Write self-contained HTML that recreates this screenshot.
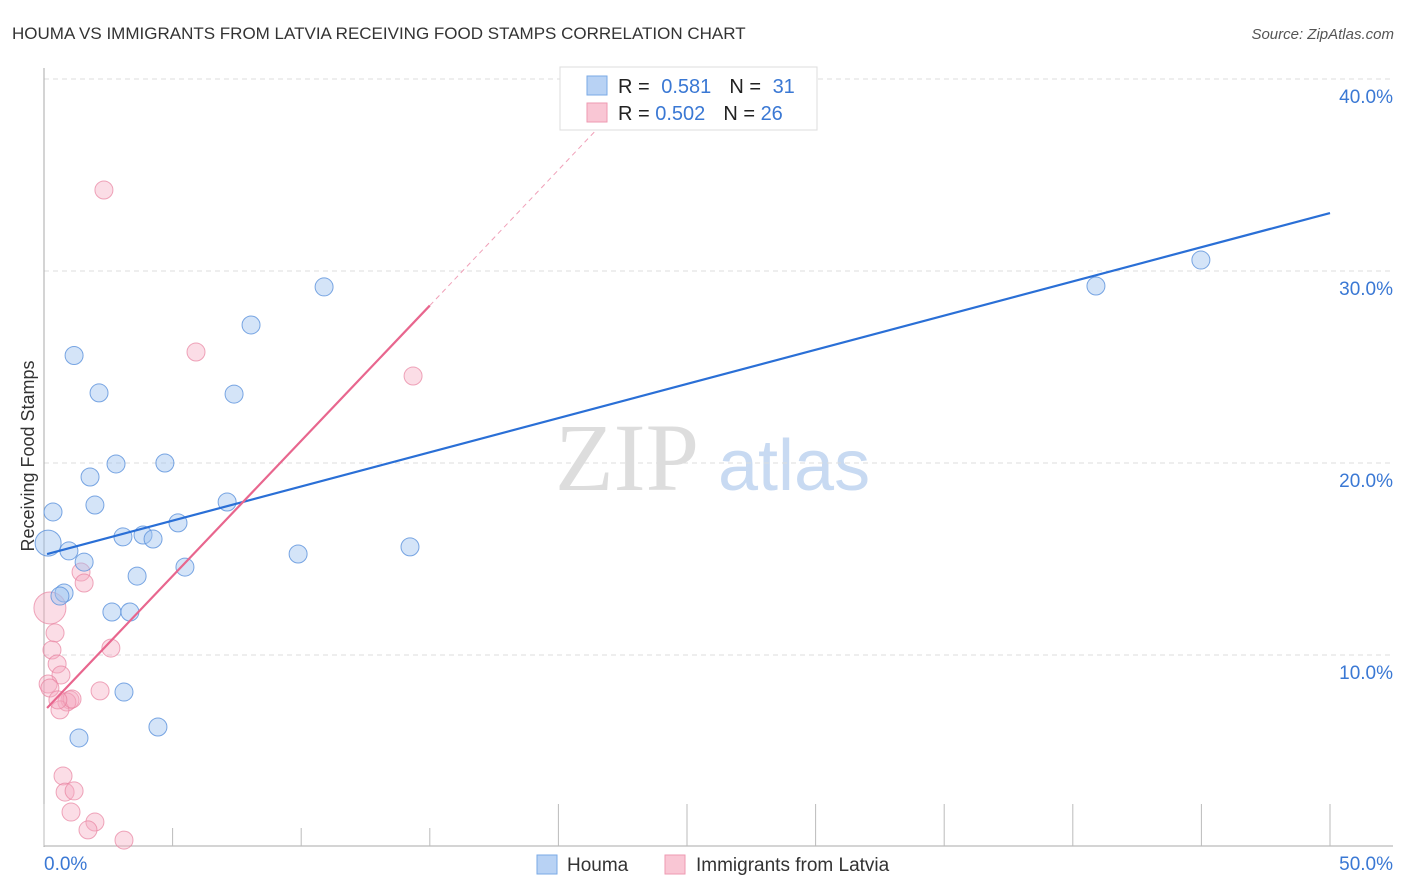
<!DOCTYPE html>
<html><head><meta charset="utf-8"><style>
body{margin:0;background:#fff;font-family:"Liberation Sans",sans-serif;}
svg{display:block}
</style></head><body>
<svg id="chart" width="1406" height="892">
<text x="12" y="39" font-size="17" fill="#333">HOUMA VS IMMIGRANTS FROM LATVIA RECEIVING FOOD STAMPS CORRELATION CHART</text>
<text x="1394" y="39" font-size="15" fill="#555" font-style="italic" text-anchor="end">Source: ZipAtlas.com</text>
<text x="0" y="0" transform="translate(34,456) rotate(-90)" font-size="18" fill="#333" text-anchor="middle">Receiving Food Stamps</text>
<text x="555" y="490" font-size="96" fill="#ddd" font-family="Liberation Serif,serif">ZIP</text>
<text x="718" y="490" font-size="72" fill="#c8daf2">atlas</text>
<g id="grid"></g><g id="ticks"></g><g id="pts"></g><g id="trend"></g>
<rect x="560" y="67" width="257" height="63" fill="#fff" stroke="#ddd"/>
<rect x="587" y="76" width="20" height="19" fill="#b8d2f4" stroke="#7aaae6"/>
<rect x="587" y="103" width="20" height="19" fill="#f9c6d4" stroke="#ee9ab2"/>
<text x="618" y="93" font-size="20" fill="#222">R = <tspan fill="#3a78d4" dx="6">0.581</tspan><tspan fill="#222" dx="18">N = </tspan><tspan fill="#3a78d4" dx="6">31</tspan></text>
<text x="618" y="120" font-size="20" fill="#222">R = <tspan fill="#3a78d4">0.502</tspan><tspan fill="#222" dx="18">N = </tspan><tspan fill="#3a78d4">26</tspan></text>
<rect x="537" y="855" width="20" height="19" fill="#b8d2f4" stroke="#7aaae6"/>
<text x="567" y="871" font-size="19" fill="#333">Houma</text>
<rect x="665" y="855" width="20" height="19" fill="#f9c6d4" stroke="#ee9ab2"/>
<text x="696" y="871" font-size="19" fill="#333">Immigrants from Latvia</text>
</svg>
<script>
const yTicks=[10,20,30,40];
const yTickLabels=["10.0%","20.0%","30.0%","40.0%"];
const xTicks=[0,5,10,15,20,25,30,35,40,45,50];
const houmaX=[1.17,2.14,2.80,1.79,1.98,0.35,0.16,0.97,3.07,3.85,4.24,1.56,3.62,0.78,0.62,2.64,3.34,3.11,1.36,4.43,4.70,5.21,5.48,7.12,7.39,8.05,10.89,9.88,14.23,40.90,44.98];
const houmaY=[25.6,23.65,19.95,19.27,17.81,17.45,15.83,15.42,16.15,16.25,16.04,14.84,14.11,13.23,13.07,12.24,12.24,8.07,5.68,6.25,20.0,16.88,14.58,17.97,23.59,27.19,29.17,15.26,15.63,29.22,30.57];
const latviaX=[2.33,5.91,14.35,1.44,1.56,0.23,0.43,0.31,0.51,0.66,0.16,0.23,1.01,0.89,0.62,1.09,2.18,2.60,0.74,0.82,1.17,1.05,1.98,1.71,3.11,0.54];
const latviaY=[34.22,25.78,24.53,14.32,13.75,12.45,11.15,10.26,9.53,8.96,8.49,8.28,7.66,7.55,7.14,7.71,8.13,10.36,3.70,2.86,2.92,1.82,1.30,0.89,0.36,7.66];
const houmaTrend=[[0.12,15.26],[50,33.02]];
const latviaTrend=[[0.12,7.24],[15.0,28.2]];
const latviaTrendExt=[[15.0,28.2],[23.35,40]];
const NS="http://www.w3.org/2000/svg";
const sx=v=>44+v*25.72, sy=v=>847-v*19.2;
function mk(tag,attrs,parent){const e=document.createElementNS(NS,tag);for(const k in attrs)e.setAttribute(k,attrs[k]);document.getElementById(parent).appendChild(e);return e;}
yTicks.forEach((t,i)=>{
 const l=mk('line',{x1:44,x2:1393,y1:sy(t),y2:sy(t),stroke:'#ddd','stroke-dasharray':'5,4'},'grid');
 
 
 const tx=mk('text',{x:1393,y:sy(t)+24,'font-size':19,fill:'#3a78d4','text-anchor':'end'},'grid');
 tx.textContent=yTickLabels[i];
 
 
});
const ax=mk('line',{x1:44,x2:44,y1:68,y2:847,stroke:'#aaa'},'ticks');


const bx=mk('line',{x1:44,x2:1393,y1:846,y2:846,stroke:'#aaa'},'ticks');


xTicks.forEach((t,i)=>{
 const tk=mk('line',{x1:sx(t),x2:sx(t),y1:(i>0&&i<4)?828:804,y2:846,stroke:'#bbb'},'ticks');
 
 
});
const xl0=mk('text',{x:44,y:870,'font-size':19,fill:'#3a78d4'},'ticks');xl0.textContent='0.0%';


const xl1=mk('text',{x:1393,y:870,'font-size':19,fill:'#3a78d4','text-anchor':'end'},'ticks');xl1.textContent='50.0%';


latviaX.forEach((x,i)=>{
 const c=mk('circle',{cx:sx(x),cy:sy(latviaY[i]),r:i==5?16:9,fill:'rgba(246,170,192,0.4)',stroke:'rgba(232,130,160,0.7)'},'pts');
 
 
});
houmaX.forEach((x,i)=>{
 const c=mk('circle',{cx:sx(x),cy:sy(houmaY[i]),r:i==6?13:9,fill:'rgba(160,196,240,0.45)',stroke:'rgba(90,145,220,0.8)'},'pts');
 
 
});
const t1=mk('line',{x1:sx(houmaTrend[0][0]),y1:sy(houmaTrend[0][1]),x2:sx(houmaTrend[1][0]),y2:sy(houmaTrend[1][1]),stroke:'#2a6fd6','stroke-width':2.2},'trend');


const t2=mk('line',{x1:sx(latviaTrend[0][0]),y1:sy(latviaTrend[0][1]),x2:sx(latviaTrend[1][0]),y2:sy(latviaTrend[1][1]),stroke:'#e8668e','stroke-width':2.2},'trend');


const t3=mk('line',{x1:sx(latviaTrendExt[0][0]),y1:sy(latviaTrendExt[0][1]),x2:sx(latviaTrendExt[1][0]),y2:sy(latviaTrendExt[1][1]),stroke:'#f0a0b8','stroke-width':1,'stroke-dasharray':'5,4'},'trend');


</script>
</body></html>
